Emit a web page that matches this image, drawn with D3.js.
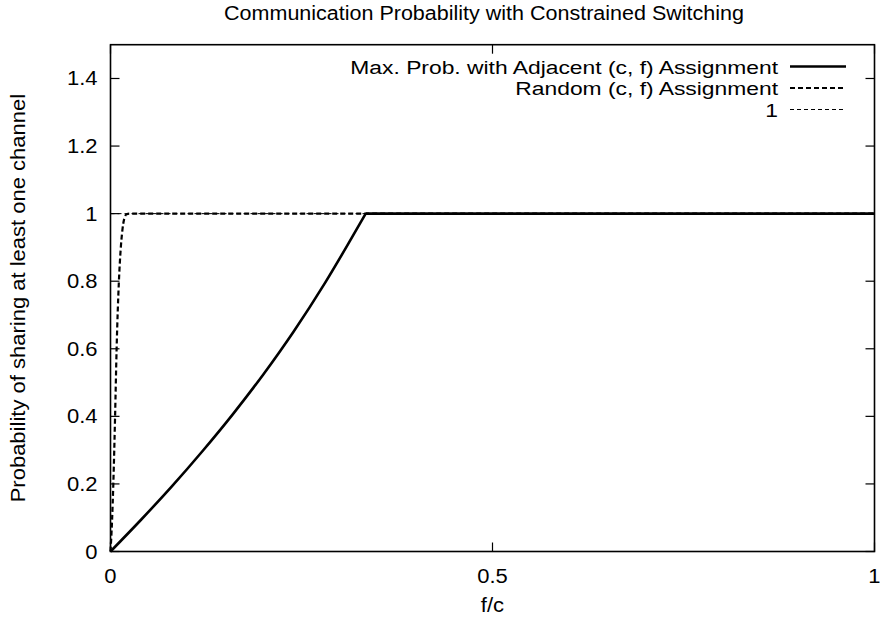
<!DOCTYPE html>
<html>
<head>
<meta charset="utf-8">
<script src="https://cdn.jsdelivr.net/npm/d3@7"></script>
<style>
  html, body { margin: 0; padding: 0; background: #fff; }
  svg text { font-family: "Liberation Sans", Arial, Helvetica, sans-serif; fill: #000; }
</style>
</head>
<body>
<svg id="chart" width="880" height="623"></svg>
<script>
// ---- data ----
const title = "Communication Probability with Constrained Switching";
const xLabel = "f/c";
const yLabel = "Probability of sharing at least one channel";

const xTicks = [0, 0.5, 1];
const yTicks = [0, 0.2, 0.4, 0.6, 0.8, 1, 1.2, 1.4];

// Max. Prob. with Adjacent (c, f) Assignment
const adjX = [0, 0.04, 0.08, 0.12, 0.16, 0.2, 0.24, 0.28, 0.31, 0.334, 1];
const adjY = [0, 0.094, 0.192, 0.296, 0.406, 0.524, 0.652, 0.792, 0.906, 1, 1];

// Random (c, f) Assignment
const rndX = [0, 0.002, 0.0037, 0.006, 0.008, 0.011, 0.0135, 0.0155, 0.018, 0.021, 0.025, 1];
const rndY = [0, 0.09, 0.2, 0.4, 0.6, 0.8, 0.9, 0.95, 0.985, 0.998, 1, 1];

// constant line "1"
const oneX = [0, 1];
const oneY = [1, 1];

const seriesNames = ["Max. Prob. with Adjacent (c, f) Assignment", "Random (c, f) Assignment", "1"];

// ---- layout ----
const plot = { left: 110.5, right: 874.5, top: 44.7, bottom: 551.5 };
const fs = 20;
const stretch = 1.1;   // reference glyphs are a little wider than Liberation Sans

const svg = d3.select("#chart");
const x = d3.scaleLinear().domain([0, 1]).range([plot.left, plot.right]);
const y = d3.scaleLinear().domain([0, 1.5]).range([plot.bottom, plot.top]);

const zip = (a, b) => a.map((v, i) => [v, b[i]]);
const smooth = d3.line().x(d => x(d[0])).y(d => y(d[1])).curve(d3.curveMonotoneX);
const straight = d3.line().x(d => x(d[0])).y(d => y(d[1]));

function widen(sel, k) {
  sel.each(function () {
    const w = this.getComputedTextLength();
    d3.select(this).attr("textLength", w * (k || stretch)).attr("lengthAdjust", "spacingAndGlyphs");
  });
  return sel;
}

// ticks (inward, mirrored)
const tl = 9;
const tickG = svg.append("g").attr("stroke", "#000").attr("stroke-width", 1.2);
yTicks.forEach(v => {
  tickG.append("line").attr("x1", plot.left).attr("x2", plot.left + tl).attr("y1", y(v)).attr("y2", y(v));
  tickG.append("line").attr("x1", plot.right).attr("x2", plot.right - tl).attr("y1", y(v)).attr("y2", y(v));
});
xTicks.forEach(v => {
  tickG.append("line").attr("x1", x(v)).attr("x2", x(v)).attr("y1", plot.bottom).attr("y2", plot.bottom - tl);
  tickG.append("line").attr("x1", x(v)).attr("x2", x(v)).attr("y1", plot.top).attr("y2", plot.top + tl);
});

// tick labels
widen(svg.append("g").selectAll("text").data(yTicks).join("text")
  .attr("x", plot.left - 13).attr("y", d => y(d) + 7)
  .attr("text-anchor", "end").attr("font-size", fs)
  .text(d => d3.format("")(d)));
widen(svg.append("g").selectAll("text").data(xTicks).join("text")
  .attr("x", d => x(d)).attr("y", 582.5)
  .attr("text-anchor", "middle").attr("font-size", fs)
  .text(d => d3.format("")(d)));

// data lines
svg.append("path").datum(zip(oneX, oneY)).attr("d", straight)
  .attr("fill", "none").attr("stroke", "#000").attr("stroke-width", 1).attr("stroke-dasharray", "4,3");
svg.append("path").datum(zip(rndX, rndY)).attr("d", smooth)
  .attr("fill", "none").attr("stroke", "#000").attr("stroke-width", 2.2).attr("stroke-dasharray", "5,3");

const adjPts = zip(adjX, adjY);
const knee = adjY.indexOf(1);
svg.append("path").datum(adjPts.slice(0, knee + 1)).attr("d", smooth)
  .attr("fill", "none").attr("stroke", "#000").attr("stroke-width", 2.6);
svg.append("path").datum(adjPts.slice(knee)).attr("d", straight)
  .attr("fill", "none").attr("stroke", "#000").attr("stroke-width", 2.6);

// frame
svg.append("rect").attr("x", plot.left).attr("y", plot.top)
  .attr("width", plot.right - plot.left).attr("height", plot.bottom - plot.top)
  .attr("fill", "none").attr("stroke", "#000").attr("stroke-width", 1.6);

// title and axis labels
widen(svg.append("text").attr("x", 484).attr("y", 19.5)
  .attr("text-anchor", "middle").attr("font-size", fs).text(title), 1.075);
widen(svg.append("text").attr("x", (plot.left + plot.right) / 2).attr("y", 612)
  .attr("text-anchor", "middle").attr("font-size", fs).text(xLabel));
widen(svg.append("text")
  .attr("transform", `translate(24.5,${(plot.top + plot.bottom) / 2}) rotate(-90)`)
  .attr("text-anchor", "middle").attr("font-size", fs).text(yLabel));

// legend
const legStyles = [
  { w: 2.6, dash: null },
  { w: 2.2, dash: "5,3" },
  { w: 1, dash: "4,3" }
];
const legRowY = [66.5, 88, 109.5];
const lfs = 19.2;
const leg = svg.append("g");
seriesNames.forEach((name, i) => {
  widen(leg.append("text").attr("x", 778).attr("y", legRowY[i] + 7)
    .attr("text-anchor", "end").attr("font-size", lfs).text(name), 1.19);
  leg.append("line").attr("x1", 790).attr("x2", 846).attr("y1", legRowY[i]).attr("y2", legRowY[i])
    .attr("stroke", "#000").attr("stroke-width", legStyles[i].w)
    .attr("stroke-dasharray", legStyles[i].dash);
});
</script>
</body>
</html>
